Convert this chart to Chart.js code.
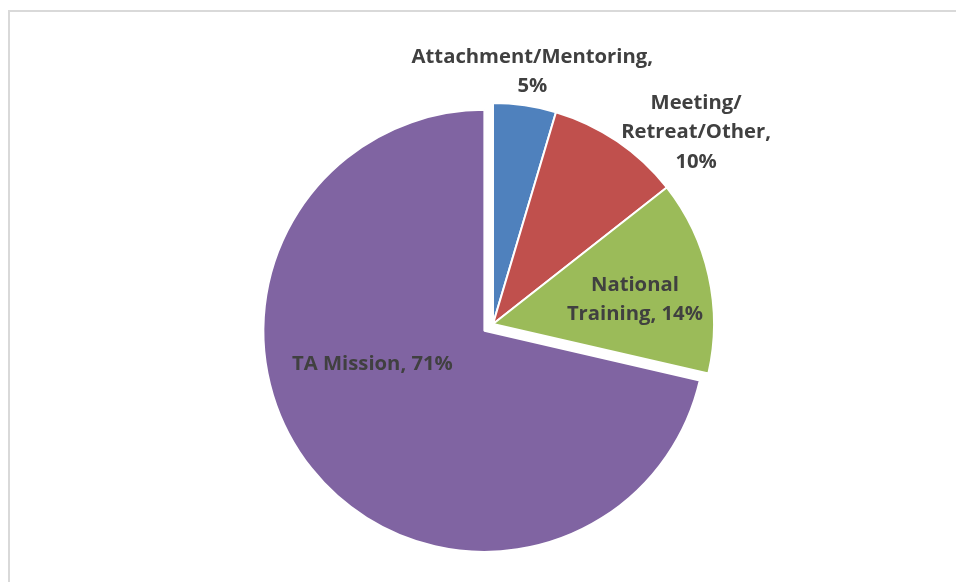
<!DOCTYPE html>
<html><head><meta charset="utf-8">
<script src="https://cdn.jsdelivr.net/npm/chart.js@4"></script>
<style>
html,body{margin:0;padding:0;background:#fff;}
#wrap{position:relative;width:956px;height:582px;overflow:hidden;}
#frame{position:absolute;left:8px;top:10px;right:-4px;bottom:-4px;border-top:2px solid #d9d9d9;border-left:2px solid #d9d9d9;}
canvas{position:absolute;left:0;top:0;}
</style></head>
<body><div id="wrap"><div id="frame"></div><canvas id="c" width="956" height="582"></canvas></div>
<script>
// ---- data ----
const categories = ['Attachment/Mentoring', 'Meeting/Retreat/Other', 'National Training', 'TA Mission'];
const categoryLines = [['Attachment/Mentoring'], ['Meeting/', 'Retreat/Other'], ['National', 'Training'], ['TA Mission']];
const shares = [4.6, 9.8, 14.2, 71.4];
const valueOnNewLine = [true, true, false, false];

// ---- styles ----
const colors = ['#4F81BD', '#C0504D', '#9BBB59', '#8064A2'];
const explode = [0, 0, 0, 11];
const labelPlace = [{adj: 0.5, dist: 1.165}, {adj: 12.2, dist: 1.269}, {adj: 2.1, dist: 0.653}, {adj: 22.9, dist: 0.526}];
const labelFont = 'bold 20.25px "Open Sans"';
const lineHeight = 29.5;
const yNudge = 2;

function labelFor(i) {
  const lines = categoryLines[i].slice();
  const last = lines.length - 1;
  const pct = Math.round(shares[i]) + '%';
  if (valueOnNewLine[i]) {
    lines[last] = lines[last] + ',';
    lines.push(pct);
  } else {
    lines[last] = lines[last] + ', ' + pct;
  }
  return lines;
}

const explodePlugin = {
  id: 'explode',
  beforeDatasetDraw(chart, args) {
    const ctx = chart.ctx;
    args.meta.data.forEach((arc, i) => {
      const e = explode[i] || 0;
      const mid = (arc.startAngle + arc.endAngle) / 2;
      ctx.save();
      ctx.translate(Math.cos(mid) * e, Math.sin(mid) * e);
      arc.draw(ctx);
      ctx.restore();
    });
    return false;
  }
};

const labelPlugin = {
  id: 'sliceLabels',
  afterDatasetsDraw(chart) {
    const meta = chart.getDatasetMeta(0);
    const ctx = chart.ctx;
    ctx.save();
    ctx.font = labelFont;
    ctx.fillStyle = '#404040';
    ctx.textAlign = 'center';
    ctx.textBaseline = 'middle';
    meta.data.forEach((arc, i) => {
      const e = explode[i] || 0;
      const mid = (arc.startAngle + arc.endAngle) / 2;
      const cx = arc.x + Math.cos(mid) * e;
      const cy = arc.y + Math.sin(mid) * e;
      const a = mid + labelPlace[i].adj * Math.PI / 180;
      const d = arc.outerRadius * labelPlace[i].dist;
      const x = cx + Math.cos(a) * d;
      const y = cy + Math.sin(a) * d + yNudge;
      const lines = labelFor(i);
      lines.forEach((t, k) => ctx.fillText(t, x, y + (k - (lines.length - 1) / 2) * lineHeight));
    });
    ctx.restore();
  }
};

new Chart(document.getElementById('c'), {
  type: 'pie',
  data: {
    labels: categories,
    datasets: [{
      data: shares,
      backgroundColor: colors,
      borderColor: '#ffffff',
      borderWidth: 2,
      hoverOffset: 0
    }]
  },
  options: {
    responsive: false,
    animation: false,
    events: [],
    layout: {padding: {left: 30, right: 0, top: 102, bottom: 36}},
    plugins: {legend: {display: false}, tooltip: {enabled: false}}
  },
  plugins: [explodePlugin, labelPlugin]
});
</script>
</body></html>
